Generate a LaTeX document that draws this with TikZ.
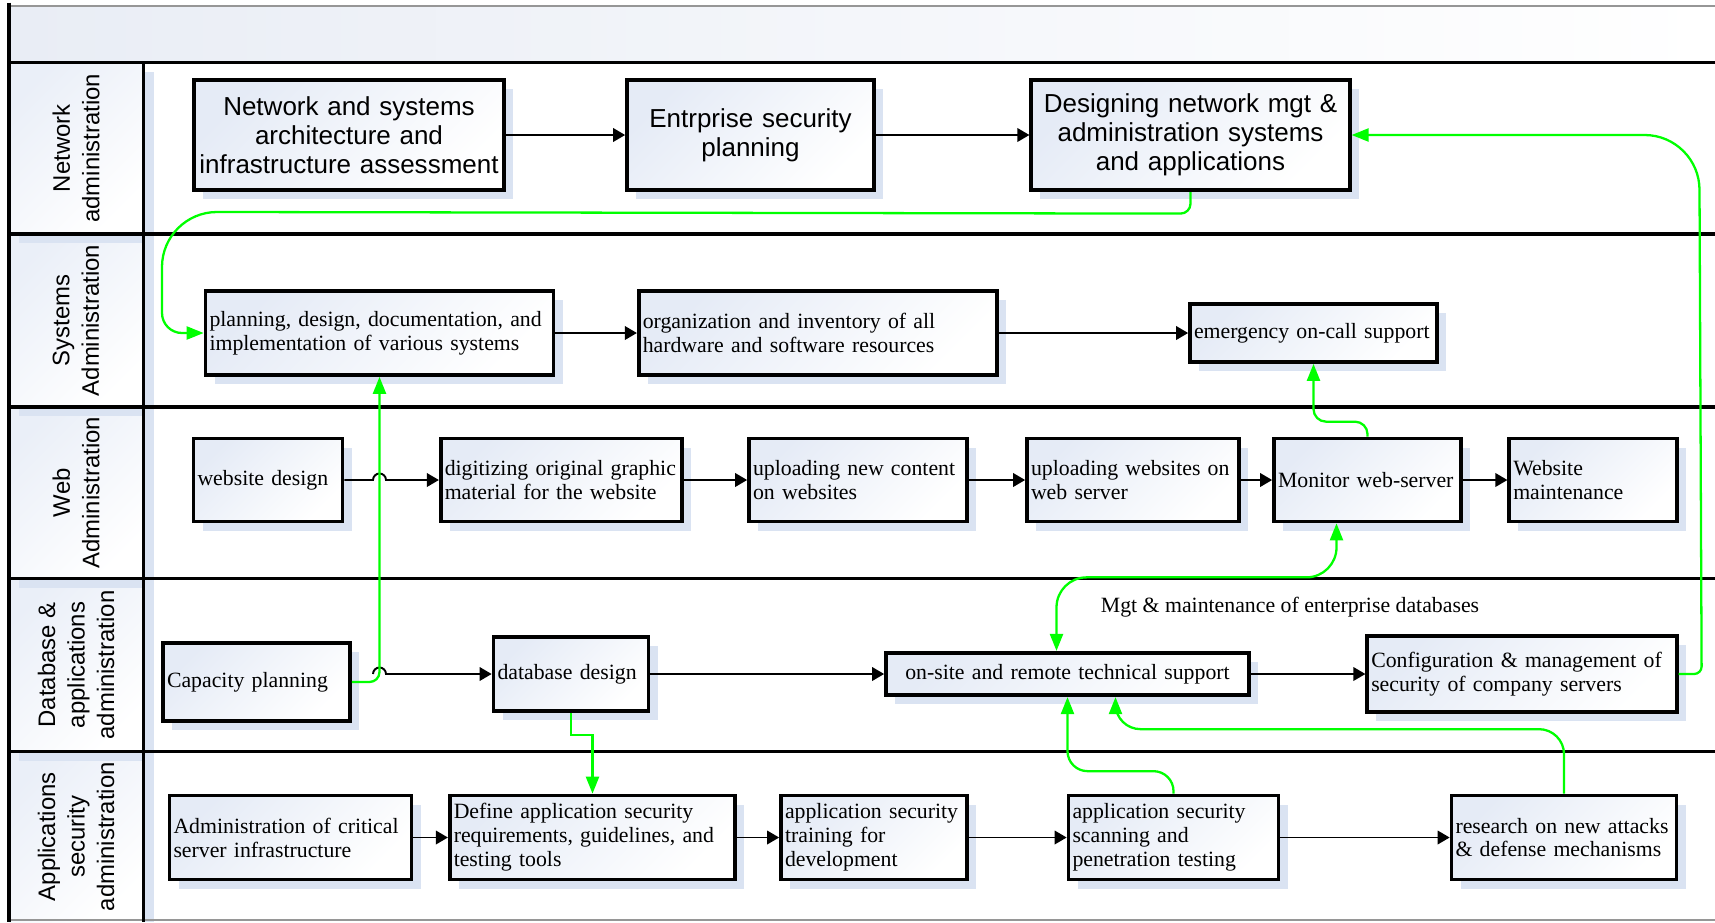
\documentclass[tikz,border=0pt]{standalone}
\usepackage{fontspec}
\setmainfont{Liberation Serif}
\setsansfont{Liberation Sans}
\usetikzlibrary{arrows.meta,shadows,calc}
\definecolor{signal}{RGB}{0,255,0}
\definecolor{frost}{RGB}{229,235,246}
\definecolor{haze}{RGB}{218,227,242}
\definecolor{mist}{RGB}{233,237,245}
\definecolor{slate}{RGB}{150,150,150}
\tikzset{
  >={Triangle[length=2.4mm,width=2.7mm]},
  gtip/.tip={Triangle[length=3.4mm,width=2.6mm]},
  task/.style={draw=black,line width=2.1pt,top color=frost,bottom color=white,
    shading angle=45,inner xsep=0.8mm,inner ysep=0pt,align=left,
    font=\fontsize{12.4}{13.6}\selectfont,
    drop shadow={shadow xshift=1.8mm,shadow yshift=-1.8mm,fill=haze,opacity=1}},
  plan/.style={task,align=center,font=\sffamily\fontsize{14.8}{16.5}\selectfont},
  flow/.style={->,line width=1.1pt},
  link/.style={-gtip,line width=1.3pt,draw=signal},
  lane/.style={rotate=90,align=center,font=\sffamily\fontsize{13.6}{16.8}\selectfont},
  lanerule/.style={line width=2.1pt},
}

\begin{document}
\begin{tikzpicture}
  \useasboundingbox (0,0) rectangle (34.3,-18.44);
  % swimlane frame
  \shade[left color=mist,right color=white] (0.18,-0.12) rectangle (34.3,-1.25);
  \foreach \t/\b in {-1.25/-4.68,-4.68/-8.14,-8.14/-11.57,-11.57/-15.03,-15.03/-18.44}
    \shade[top color=frost!80,bottom color=white,shading angle=45] (0.18,\t) rectangle (2.87,\b);
  \foreach \t in {-4.68,-8.14,-11.57,-15.03}
    \fill[haze] (0.38,\t) rectangle (3.07,\t-0.18);
  \fill[haze] (2.87,-1.43) rectangle (3.07,-18.44);
  \draw[slate,line width=0.8pt] (0.18,-0.12) -- (34.3,-0.12);
  \draw[slate,line width=0.8pt] (0.18,-18.40) -- (34.3,-18.40);
  \draw[lanerule] (0.18,-0.05) -- (0.18,-18.44);
  \foreach \y in {-1.25,-4.68,-8.14,-11.57,-15.03}
    \draw[lanerule] (0.18,\y) -- (34.3,\y);
  \draw[lanerule] (2.87,-1.25) -- (2.87,-18.44);

  \node[lane] (L1) at (1.52,-2.965) {Network\\administration};
  \node[lane] (L2) at (1.52,-6.41) {Systems\\Administration};
  \node[lane] (L3) at (1.52,-9.855) {Web\\Administration};
  \node[lane] (L4) at (1.52,-13.30) {Database \&\\applications\\administration};
  \node[lane] (L5) at (1.52,-16.735) {Applications\\security\\administration};

  % network administration
  \node[plan,text width=6.05cm,minimum height=2.21cm] (A1) at (6.98,-2.70) {Network and systems\\architecture and\\infrastructure assessment};
  \node[plan,text width=4.78cm,minimum height=2.21cm] (A2) at (15.01,-2.70) {Entrprise security\\planning};
  \node[plan,text width=6.21cm,minimum height=2.21cm] (A3) at (23.81,-2.70) {Designing network mgt \&\\administration systems\\and applications};

  % systems administration
  \node[task,text width=6.80cm,minimum height=1.68cm] (B1) at (7.59,-6.66) {planning, design, documentation, and\\implementation of various systems};
  \node[task,text width=7.01cm,minimum height=1.68cm] (B2) at (16.36,-6.66) {organization and inventory of all\\hardware and software resources};
  \node[task,text width=4.78cm,minimum height=1.16cm] (B3) at (26.27,-6.66) {emergency on-call support};

  % web administration
  \node[task,text width=2.82cm,minimum height=1.66cm] (C1) at (5.36,-9.60) {website design};
  \node[task,text width=4.67cm,minimum height=1.66cm] (C2) at (11.23,-9.60) {digitizing original graphic\\material for the website};
  \node[task,text width=4.20cm,minimum height=1.66cm] (C3) at (17.16,-9.60) {uploading new content\\on websites};
  \node[task,text width=4.08cm,minimum height=1.66cm] (C4) at (22.66,-9.60) {uploading websites on\\web server};
  \node[task,text width=3.58cm,minimum height=1.66cm] (C5) at (27.35,-9.60) {Monitor web-server};
  \node[task,text width=3.19cm,minimum height=1.66cm] (C6) at (31.86,-9.60) {Website\\maintenance};

  % database & applications administration
  \node[task,text width=3.58cm,minimum height=1.55cm] (D1) at (5.13,-13.64) {Capacity planning};
  \node[task,text width=2.94cm,minimum height=1.49cm] (D2) at (11.42,-13.48) {database design};
  \node[task,align=center,text width=7.10cm,minimum height=0.85cm] (D3) at (21.35,-13.48) {on-site and remote technical support};
  \node[task,text width=6.03cm,minimum height=1.51cm] (D4) at (30.44,-13.48) {Configuration \& management of\\security of company servers};
  \node[font=\fontsize{12.4}{13.6}\selectfont] (dbnote) at (25.80,-12.14) {Mgt \& maintenance of enterprise databases};

  % applications security administration
  \node[task,text width=4.68cm,minimum height=1.68cm] (E1) at (5.81,-16.75) {Administration of critical\\server infrastructure};
  \node[task,text width=5.55cm,minimum height=1.68cm] (E2) at (11.85,-16.75) {Define application security\\requirements, guidelines, and\\testing tools};
  \node[task,text width=3.56cm,minimum height=1.68cm] (E3) at (17.48,-16.75) {application security\\training for\\development};
  \node[task,text width=4.04cm,minimum height=1.68cm] (E4) at (23.47,-16.75) {application security\\scanning and\\penetration testing};
  \node[task,text width=4.34cm,minimum height=1.68cm] (E5) at (31.28,-16.75) {research on new attacks\\\& defense mechanisms};

  % main flow
  \draw[flow] (A1) -- (A2);
  \draw[flow] (A2) -- (A3);
  \draw[flow] (B1) -- (B2);
  \draw[flow] (B2) -- (B3);
  \coordinate (hopC) at (C1.east -| B1.south);
  \coordinate (hopD) at (D2.west -| B1.south);
  \draw[flow] (C1.east) -- ([xshift=-1.3mm]hopC) arc[start angle=180,end angle=0,radius=1.3mm] -- (C2.west);
  \draw[flow] (C2) -- (C3);
  \draw[flow] (C3) -- (C4);
  \draw[flow] (C4) -- (C5);
  \draw[flow] (C5) -- (C6);
  \draw[flow] ([xshift=-1.3mm]hopD) arc[start angle=180,end angle=0,radius=1.3mm] -- (D2.west);
  \draw[flow] (D2) -- (D3);
  \draw[flow] (D3) -- (D4);
  \draw[flow] (E1) -- (E2);
  \draw[flow] (E2) -- (E3);
  \draw[flow] (E3) -- (E4);
  \draw[flow] (E4) -- (E5);

  % cross-lane links
  \draw[link] (A3.south) -- ++(0,-0.23) arc[start angle=0,end angle=-90,radius=0.2]
    -- (4.34,-4.24) arc[start angle=90,end angle=180,radius=1.1]
    -- (3.24,-6.26) arc[start angle=180,end angle=270,radius=0.4] -- (B1.west);
  \draw[link,rounded corners=0.2cm] (D1.east) -| (B1.south);
  \draw[link] (D2.south) -- ++(0,-0.44) -| (E2.north);
  \draw[link,gtip-gtip,rounded corners=0.6cm] ([xshift=-6.2mm]C5.south) -- ++(0,-1.08) -| ([xshift=-2.2mm]D3.north);
  \draw[link,rounded corners=0.25cm] (C5.north) -- ++(0,0.3) -| (B3.south);
  \draw[link] (D4.east) -- ++(0.31,0) arc[start angle=-90,end angle=0,radius=0.15]
    -- (33.99,-3.80) arc[start angle=0,end angle=90,radius=1.1] -- (A3.east);
  \draw[link,rounded corners=0.4cm] (E4.north) -- ++(0,0.45) -| (D3.south);
  \draw[link,rounded corners=0.5cm] (E5.north) -- ++(0,1.29) -| ([xshift=9.6mm]D3.south);
\end{tikzpicture}
\end{document}
